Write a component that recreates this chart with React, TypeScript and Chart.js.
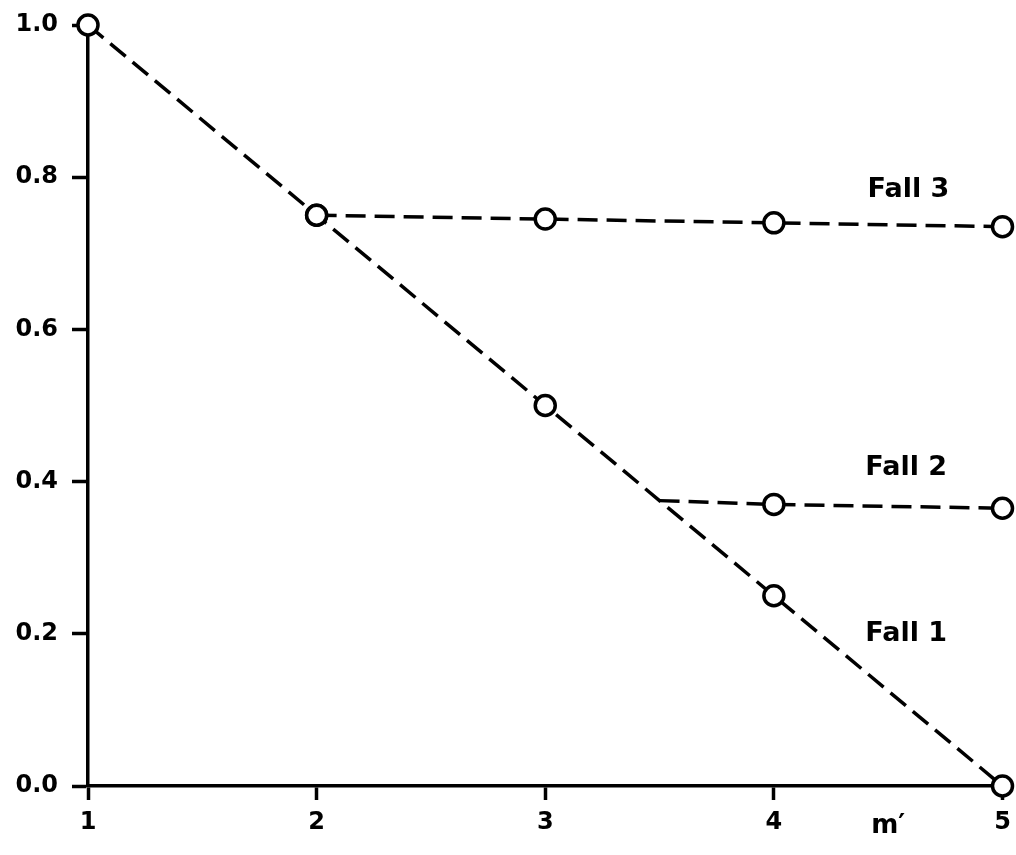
import React, { useEffect, useRef } from "react";
import { Chart, registerables } from "chart.js";

Chart.register(...registerables);

const fall1X = [1, 2, 3, 4, 5];
const fall1Y = [1.0, 0.75, 0.5, 0.25, 0.0];
const fall2X = [3.5, 4, 5];
const fall2Y = [0.375, 0.37, 0.365];
const fall3X = [2, 3, 4, 5];
const fall3Y = [0.75, 0.745, 0.74, 0.735];
const xTickValues = [1, 2, 3, 4, 5];
const yTickValues = [0, 0.2, 0.4, 0.6, 0.8, 1.0];
const curveLabels = ["Fall 1", "Fall 2", "Fall 3"];
const axisLabelX = "m\u2032";

const FONT = "'DejaVu Sans', sans-serif";

const toPoints = (xs: number[], ys: number[]) => xs.map((x, i) => ({ x, y: ys[i] }));

export default function App() {
  const ref = useRef<HTMLCanvasElement | null>(null);

  useEffect(() => {
    if (!ref.current) return;
    const lineStyle = {
      borderColor: "#000",
      borderWidth: 3.5,
      borderDash: [20, 9],
      pointBackgroundColor: "#fff",
      pointBorderColor: "#000",
      pointBorderWidth: 3.5,
      pointRadius: 10,
      fill: false,
      tension: 0,
      clip: false as any,
    };

    const labelsPlugin = {
      id: "labelsPlugin",
      afterDatasetsDraw(chart: any) {
        const ctx = chart.ctx;
        const xs = chart.scales.x;
        const ys = chart.scales.y;
        ctx.save();
        ctx.fillStyle = "#000";
        ctx.font = `bold 27px ${FONT}`;
        ctx.textBaseline = "middle";
        ctx.textAlign = "left";
        const pos = [
          [4.4, 0.2],
          [4.4, 0.418],
          [4.41, 0.783],
        ];
        curveLabels.forEach((t, i) => {
          ctx.fillText(t, xs.getPixelForValue(pos[i][0]), ys.getPixelForValue(pos[i][1]));
        });
        ctx.textAlign = "center";
        ctx.font = `bold 26px ${FONT}`;
        ctx.fillText(axisLabelX, xs.getPixelForValue(4.5), chart.chartArea.bottom + 40);
        ctx.restore();
      },
    };

    const chart = new Chart(ref.current, {
      type: "line",
      data: {
        datasets: [
          { ...lineStyle, label: "Fall 3", data: toPoints(fall3X, fall3Y) },
          {
            ...lineStyle,
            label: "Fall 2",
            data: toPoints(fall2X, fall2Y),
            pointRadius: fall2X.map((_, i) => (i === 0 ? 0 : 10)),
          },
          { ...lineStyle, label: "Fall 1", data: toPoints(fall1X, fall1Y) },
        ],
      },
      options: {
        animation: false,
        responsive: false,
        devicePixelRatio: 1,
        layout: { padding: { top: 25, right: 11, left: 0, bottom: 0 } },
        plugins: { legend: { display: false }, tooltip: { enabled: false } },
        scales: {
          x: {
            type: "linear",
            min: 1,
            max: 5,
            afterBuildTicks: (s: any) => {
              s.ticks = xTickValues.map((v) => ({ value: v }));
            },
            afterFit: (s: any) => {
              s.height = 69;
              s.paddingRight = 0;
              s.paddingLeft = 0;
            },
            border: { display: true, color: "#000", width: 3.5 },
            grid: {
              drawOnChartArea: false,
              drawTicks: true,
              tickLength: 14,
              tickColor: "#000",
              tickWidth: 3.5,
            },
            ticks: {
              color: "#000",
              padding: 8,
              font: { family: FONT, size: 24, weight: "bold" },
              callback: (v: any) => String(v),
              maxRotation: 0,
            },
          },
          y: {
            type: "linear",
            min: 0,
            max: 1,
            afterBuildTicks: (s: any) => {
              s.ticks = yTickValues.map((v) => ({ value: v }));
            },
            afterFit: (s: any) => {
              s.width = 88;
              s.paddingTop = 0;
              s.paddingBottom = 0;
            },
            border: { display: true, color: "#000", width: 3.5 },
            grid: {
              drawOnChartArea: false,
              drawTicks: true,
              tickLength: 16,
              tickColor: "#000",
              tickWidth: 3.5,
            },
            ticks: {
              color: "#000",
              padding: 14,
              font: { family: FONT, size: 24, weight: "bold" },
              callback: (v: any) => Number(v).toFixed(1),
            },
          },
        },
      } as any,
      plugins: [labelsPlugin],
    });
    return () => chart.destroy();
  }, []);

  return (
    <div style={{ position: "absolute", left: 0, top: 0, width: 1016, height: 855, background: "#fff" }}>
      <canvas ref={ref} width={1016} height={855} style={{ display: "block" }} />
    </div>
  );
}
